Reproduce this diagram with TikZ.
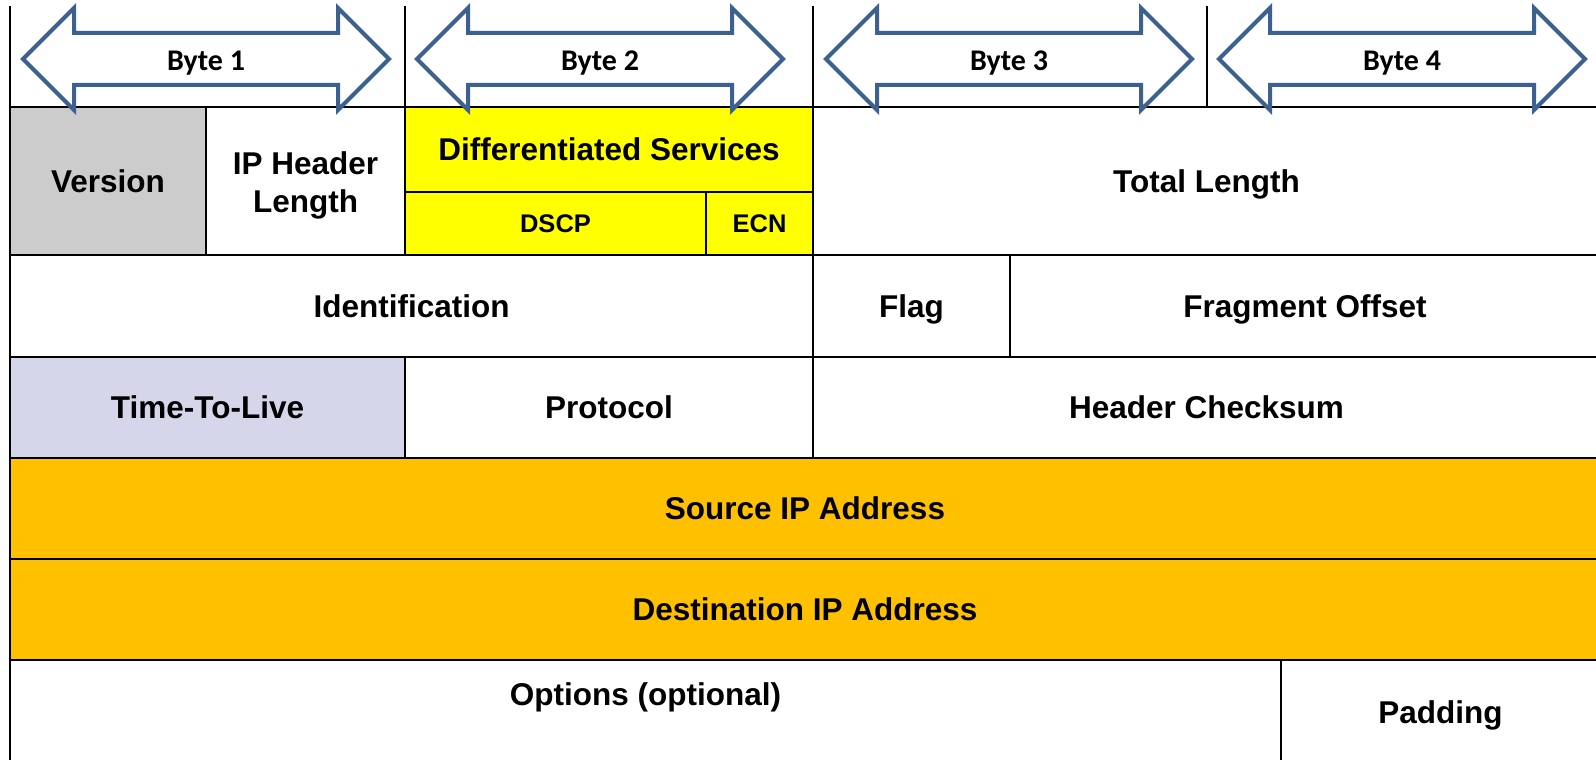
\documentclass[tikz,border=0pt]{standalone}
\usepackage{fontspec}
\setmainfont{Liberation Sans}
\newfontfamily\carlito{Carlito}
\definecolor{versiongray}{HTML}{CCCCCC}
\definecolor{dsyellow}{HTML}{FFFF00}
\definecolor{ttlblue}{HTML}{D6D6EA}
\definecolor{addrorange}{HTML}{FFC000}
\definecolor{arrowblue}{HTML}{3C6090}

\begin{document}
\begin{tikzpicture}[x=1pt, y=-1pt,
  fieldtext/.style = {inner sep=0pt, align=center, font=\fontsize{31.5}{38}\selectfont\bfseries, text height=22.6pt, text depth=0pt},
  field/.style = {fieldtext, draw, line width=2pt, rectangle, anchor=north west, outer sep=0pt, fill=white},
  small/.style = {font=\fontsize{25.5}{30}\selectfont\bfseries, text height=18.3pt},
  bytearrow/.style = {draw=arrowblue, line width=4pt, fill=white},
  bytelabel/.style = {inner sep=0pt, font=\carlito\fontsize{30}{36}\selectfont\bfseries, text height=19.3pt, text depth=0pt}]
	\useasboundingbox (0,0) rectangle (1596,760);
	\clip (0,0) rectangle (1596,760);
	
	% first word
	\node[field, fill=versiongray, minimum width=196, minimum height=148] (version) at (10,107) {Version};
	\node[field, minimum width=199, minimum height=148] (ihl) at (206,107) {};
	\node[fieldtext] (ihllabel) at (305.5,201) {IP Header\\Length};
	\node[field, fill=dsyellow, minimum width=408, minimum height=85] (diffserv) at (405,107) {Differentiated Services};
	\node[field, small, fill=dsyellow, minimum width=301, minimum height=63] (dscp) at (405,192) {DSCP};
	\node[field, small, fill=dsyellow, minimum width=107, minimum height=63] (ecn) at (706,192) {ECN};
	\node[field, minimum width=787, minimum height=148] (totlen) at (813,107) {Total Length};
	
	% second word
	\node[field, minimum width=803, minimum height=102] (ident) at (10,255) {Identification};
	\node[field, minimum width=197, minimum height=102] (flag) at (813,255) {Flag};
	\node[field, minimum width=590, minimum height=102] (fragoff) at (1010,255) {Fragment Offset};
	
	% third word
	\node[field, fill=ttlblue, minimum width=395, minimum height=101] (ttl) at (10,357) {Time-To-Live};
	\node[field, minimum width=408, minimum height=101] (proto) at (405,357) {Protocol};
	\node[field, minimum width=787, minimum height=101] (checksum) at (813,357) {Header Checksum};
	
	% addresses
	\node[field, fill=addrorange, minimum width=1590, minimum height=101] (srcip) at (10,458) {Source IP Address};
	\node[field, fill=addrorange, minimum width=1590, minimum height=101] (dstip) at (10,559) {Destination IP Address};
	
	% options
	\node[field, minimum width=1271, minimum height=104] (options) at (10,660) {};
	\node[fieldtext] (optlabel) at (645.5,694) {Options (optional)};
	\node[field, minimum width=319, minimum height=104] (padding) at (1281,660) {Padding};
	
	% byte columns
	\foreach \dx in {10,405,813,1207}
		\draw[line width=2pt] (\dx,6) -- (\dx,107);
	
	\foreach \bx/\lbl [count=\i] in {23/Byte 1, 417/Byte 2, 826/Byte 3, 1219/Byte 4} {
		\draw[bytearrow] (\bx,59) -- ++(51,-51) -- ++(0,25) -- ++(264,0) -- ++(0,-25) -- ++(51,51)
			-- ++(-51,51) -- ++(0,-25) -- ++(-264,0) -- ++(0,25) -- cycle;
		\node[bytelabel] (byte\i) at (\bx+183,60.5) {\lbl};
	}
	
\end{tikzpicture}
\end{document}
